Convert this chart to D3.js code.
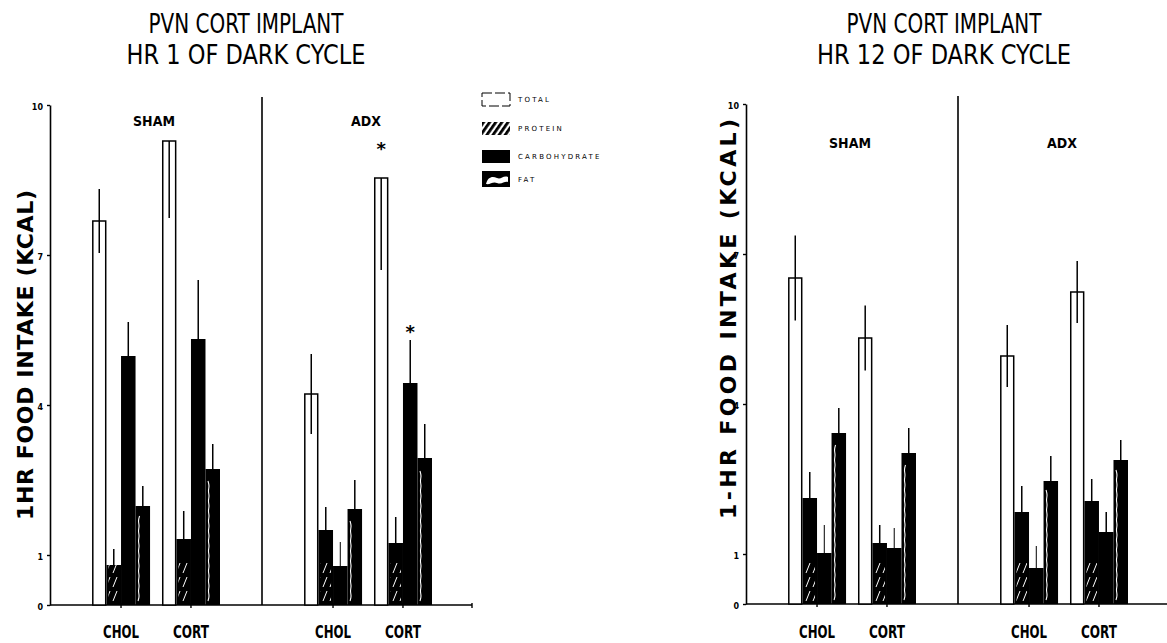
<!DOCTYPE html>
<html>
<head>
<meta charset="utf-8">
<script src="https://cdn.jsdelivr.net/npm/d3@7"></script>
<style>
  body { margin: 0; background: #fff; }
  text { fill: #000; }
</style>
</head>
<body>
<svg id="chart" width="1167" height="643"></svg>
<script>
const series = ['TOTAL', 'PROTEIN', 'CARBOHYDRATE', 'FAT'];
const conditions = ['SHAM', 'ADX'];
const treatments = ['CHOL', 'CORT'];
const yTicks = [0, 1, 4, 7, 10];

// bar order in every array: SHAM CHOL, SHAM CORT, ADX CHOL, ADX CORT
const hr1Total = [7.68, 9.28, 4.22, 8.54];
const hr1Protein = [0.80, 1.32, 1.50, 1.24];
const hr1Carb = [4.98, 5.32, 0.78, 4.44];
const hr1Fat = [1.98, 2.72, 1.92, 2.94];
const hr1TotalSE = [0.64, 1.54, 0.80, 1.84];
const hr1ProteinSE = [0.32, 0.56, 0.46, 0.52];
const hr1CarbSE = [0.68, 1.18, 0.48, 0.86];
const hr1FatSE = [0.40, 0.50, 0.58, 0.68];
const hr1UpperShown = [true, false, true, false];   // total bars only
const hr1Stars = [{ series: 0, bar: 3, at: 9.2 }, { series: 2, bar: 3, at: 5.55 }];

const hr12Total = [6.52, 5.32, 4.96, 6.24];
const hr12Protein = [2.12, 1.22, 1.84, 2.06];
const hr12Carb = [1.02, 1.12, 0.72, 1.44];
const hr12Fat = [3.42, 3.02, 2.46, 2.88];
const hr12TotalSE = [0.85, 0.65, 0.62, 0.62];
const hr12ProteinSE = [0.52, 0.36, 0.52, 0.44];
const hr12CarbSE = [0.56, 0.40, 0.44, 0.40];
const hr12FatSE = [0.50, 0.50, 0.50, 0.40];
const hr12UpperShown = [true, true, true, true];
const hr12Stars = [];

const panels = [
  {
    title: ['PVN CORT IMPLANT', 'HR 1 OF DARK CYCLE'], titleX: 246, titleLen: [195, 239],
    yLabel: '1HR FOOD INTAKE (KCAL)', yLabelX: 33, yLabelLen: 330,
    axisX: 50, y0: 605, condY: 126,
    values: [hr1Total, hr1Protein, hr1Carb, hr1Fat],
    se: [hr1TotalSE, hr1ProteinSE, hr1CarbSE, hr1FatSE],
    upper: hr1UpperShown, stars: hr1Stars, legend: true
  },
  {
    title: ['PVN CORT IMPLANT', 'HR 12 OF DARK CYCLE'], titleX: 944, titleLen: [195, 254],
    yLabel: '1-HR FOOD INTAKE (KCAL)', yLabelX: 736, yLabelLen: 400,
    axisX: 746, y0: 604, condY: 148,
    values: [hr12Total, hr12Protein, hr12Carb, hr12Fat],
    se: [hr12TotalSE, hr12ProteinSE, hr12CarbSE, hr12FatSE],
    upper: hr12UpperShown, stars: hr12Stars, legend: false
  }
];

const narrow = '"Liberation Sans Narrow", "DejaVu Sans Condensed", sans-serif';
const svg = d3.select('#chart');
const defs = svg.append('defs');

// white hatch for protein bars, black hatch for the legend
defs.append('pattern')
  .attr('id', 'hatchWhite').attr('patternUnits', 'userSpaceOnUse')
  .attr('width', 7).attr('height', 14)
  .append('path').attr('d', 'M1,13 L5,3')
  .attr('stroke', '#fff').attr('stroke-width', 1);
const hb = defs.append('pattern')
  .attr('id', 'hatchBlack').attr('patternUnits', 'userSpaceOnUse')
  .attr('width', 5).attr('height', 5)
  .attr('patternTransform', 'rotate(35)');
hb.append('rect').attr('width', 5).attr('height', 5).attr('fill', '#fff');
hb.append('rect').attr('width', 2.8).attr('height', 5).attr('fill', '#000');

const drawPanel = (p) => {
  const g = svg.append('g');

  const y = d3.scaleLinear().domain([0, 10]).range([p.y0, p.y0 - 500]);
  const xCond = d3.scaleBand().domain(conditions).range([p.axisX, p.axisX + 424]);
  const xTrt = d3.scaleBand().domain(treatments).range([42, 170]).paddingInner(0.17);
  const xSer = d3.scaleBand().domain(series).range([0, xTrt.bandwidth()]);

  const bars = [];
  conditions.forEach((c, ci) => treatments.forEach((t, ti) => series.forEach((s, si) => {
    const i = ci * 2 + ti;
    bars.push({
      c, t, s, si, i,
      v: p.values[si][i],
      se: p.se[si][i],
      x: xCond(c) + xTrt(t) + xSer(s),
      w: xSer.bandwidth()
    });
  })));

  // titles
  g.selectAll('text.title')
    .data(p.title)
    .enter().append('text')
      .attr('class', 'title')
      .attr('x', p.titleX)
      .attr('y', (d, i) => 33 + i * 31)
      .attr('text-anchor', 'middle')
      .attr('font-family', narrow)
      .attr('font-size', 27)
      .attr('textLength', (d, i) => p.titleLen[i])
      .attr('lengthAdjust', 'spacingAndGlyphs')
      .text(d => d);

  // y axis
  const yAxis = g.append('g')
    .attr('transform', `translate(${p.axisX},0)`)
    .call(d3.axisLeft(y).tickValues(yTicks).tickSize(3).tickSizeOuter(0).tickPadding(4));
  yAxis.select('.domain').attr('stroke-width', 1.6);
  yAxis.selectAll('.tick line').attr('stroke-width', 1.4);
  yAxis.selectAll('.tick text')
    .attr('font-family', 'DejaVu Sans, sans-serif')
    .attr('font-weight', 'bold')
    .attr('font-size', 8)
    .attr('dy', '0.5em');

  g.append('text')
    .attr('transform', `translate(${p.yLabelX},${y(0) - 85 - p.yLabelLen / 2}) rotate(-90)`)
    .attr('text-anchor', 'middle')
    .attr('font-family', 'DejaVu Sans, sans-serif')
    .attr('font-weight', 'bold')
    .attr('font-size', 22)
    .attr('textLength', p.yLabelLen)
    .attr('lengthAdjust', 'spacing')
    .text(p.yLabel);

  // x axis baseline, ticks at the treatment centres
  g.append('line')
    .attr('x1', p.axisX).attr('x2', p.axisX + 422)
    .attr('y1', y(0)).attr('y2', y(0))
    .attr('stroke', '#000').attr('stroke-width', 1.6);
  const centres = [];
  conditions.forEach(c => treatments.forEach(t => centres.push({ c, t, x: xCond(c) + xTrt(t) + xTrt.bandwidth() / 2 })));
  g.selectAll('line.xtick')
    .data(centres.map(d => d.x).concat([p.axisX + 422]))
    .enter().append('line')
      .attr('class', 'xtick')
      .attr('x1', d => d).attr('x2', d => d)
      .attr('y1', y(0) - 2).attr('y2', y(0) + 3)
      .attr('stroke', '#000').attr('stroke-width', 1.4);
  g.selectAll('text.trt')
    .data(centres)
    .enter().append('text')
      .attr('class', 'trt')
      .attr('x', d => d.x)
      .attr('y', 638)
      .attr('text-anchor', 'middle')
      .attr('font-family', narrow)
      .attr('font-weight', 'bold')
      .attr('font-size', 17)
      .attr('textLength', 36)
      .attr('lengthAdjust', 'spacingAndGlyphs')
      .text(d => d.t);

  // SHAM / ADX divider and headings
  g.append('line')
    .attr('x1', xCond('ADX')).attr('x2', xCond('ADX'))
    .attr('y1', y(0)).attr('y2', y(10) - 8)
    .attr('stroke', '#000').attr('stroke-width', 1.6);
  g.selectAll('text.cond')
    .data(conditions)
    .enter().append('text')
      .attr('class', 'cond')
      .attr('x', d => xCond(d) + xCond.bandwidth() / 2 - 2)
      .attr('y', p.condY)
      .attr('text-anchor', 'middle')
      .attr('font-family', narrow)
      .attr('font-weight', 'bold')
      .attr('font-size', 14)
      .text(d => d);

  // bars
  g.selectAll('rect.bar')
    .data(bars)
    .enter().append('rect')
      .attr('class', 'bar')
      .attr('x', d => d.si === 0 ? d.x + 0.8 : d.x)
      .attr('y', d => y(d.v))
      .attr('width', d => d.si === 0 ? d.w - 1.6 : d.w)
      .attr('height', d => y(0) - y(d.v))
      .attr('fill', d => d.si === 0 ? '#fff' : '#000')
      .attr('stroke', d => d.si === 0 ? '#000' : 'none')
      .attr('stroke-width', 1.5);

  // faint white hatching at the foot of the protein bars
  g.selectAll('rect.hatch')
    .data(bars.filter(d => d.si === 1))
    .enter().append('rect')
      .attr('class', 'hatch')
      .attr('x', d => d.x + 2)
      .attr('y', d => y(0) - Math.min(y(0) - y(d.v), 42))
      .attr('width', d => d.w - 4)
      .attr('height', d => Math.min(y(0) - y(d.v), 42) - 3)
      .attr('fill', 'url(#hatchWhite)');

  // white wavy edge inside the fat bars
  const wave = d3.line().curve(d3.curveBasis);
  g.selectAll('path.wave')
    .data(bars.filter(d => d.si === 3))
    .enter().append('path')
      .attr('class', 'wave')
      .attr('d', d => {
        const top = y(d.v) + 8, bottom = y(0) - 4;
        const pts = d3.range(bottom, top, -5).map((yy, k) => [d.x + 2.5 + (k % 2 ? 1.5 : 0), yy]);
        return wave(pts);
      })
      .attr('fill', 'none')
      .attr('stroke', '#fff')
      .attr('stroke-width', 1.1);

  // error bars: above every bar, and continued inside the open total bars
  g.selectAll('line.err')
    .data(bars.filter(d => d.si !== 0 || p.upper[d.i]))
    .enter().append('line')
      .attr('class', 'err')
      .attr('x1', d => d.x + d.w / 2).attr('x2', d => d.x + d.w / 2)
      .attr('y1', d => y(d.v + d.se))
      .attr('y2', d => y(d.v))
      .attr('stroke', '#000')
      .attr('stroke-width', d => d.si === 2 && d.v < 1.2 ? 1 : 1.5);
  g.selectAll('line.errIn')
    .data(bars.filter(d => d.si === 0))
    .enter().append('line')
      .attr('class', 'errIn')
      .attr('x1', d => d.x + d.w / 2).attr('x2', d => d.x + d.w / 2)
      .attr('y1', d => y(d.v))
      .attr('y2', d => y(d.v - d.se))
      .attr('stroke', '#000')
      .attr('stroke-width', 1.5);

  // significance marks
  g.selectAll('text.star')
    .data(p.stars)
    .enter().append('text')
      .attr('class', 'star')
      .attr('x', d => bars.find(b => b.si === d.series && b.i === d.bar).x + xSer.bandwidth() / 2)
      .attr('y', d => y(d.at) + 10)
      .attr('text-anchor', 'middle')
      .attr('font-family', 'DejaVu Sans, sans-serif')
      .attr('font-weight', 'bold')
      .attr('font-size', 18)
      .text('*');

  if (p.legend) {
    const lg = g.append('g').attr('transform', 'translate(482,93)');
    const rows = lg.selectAll('g')
      .data(series)
      .enter().append('g')
        .attr('transform', (d, i) => `translate(0,${[0, 29, 57, 78][i]})`);
    rows.append('rect')
      .attr('width', 28).attr('height', (d, i) => i === 3 ? 16 : 13)
      .attr('fill', (d, i) => ['#fff', 'url(#hatchBlack)', '#000', '#000'][i])
      .attr('stroke', (d, i) => i === 0 ? '#000' : 'none')
      .attr('stroke-dasharray', (d, i) => i === 0 ? '10,3' : null)
      .attr('stroke-width', 1);
    rows.filter((d, i) => i === 3).append('path')
      .attr('d', 'M4,13 C6,6 10,5 15,7 C19,9 21,4 26,6 L26,11 C22,10 20,14 15,12 C11,10 8,14 4,13 Z')
      .attr('fill', '#fff');
    rows.append('text')
      .attr('x', 36)
      .attr('y', (d, i) => i === 3 ? 11 : 9)
      .attr('font-family', 'DejaVu Sans, sans-serif')
      .attr('font-size', 7)
      .attr('letter-spacing', 2.2)
      .attr('fill', '#555')
      .text(d => d);
  }
};

panels.forEach(drawPanel);
</script>
</body>
</html>
